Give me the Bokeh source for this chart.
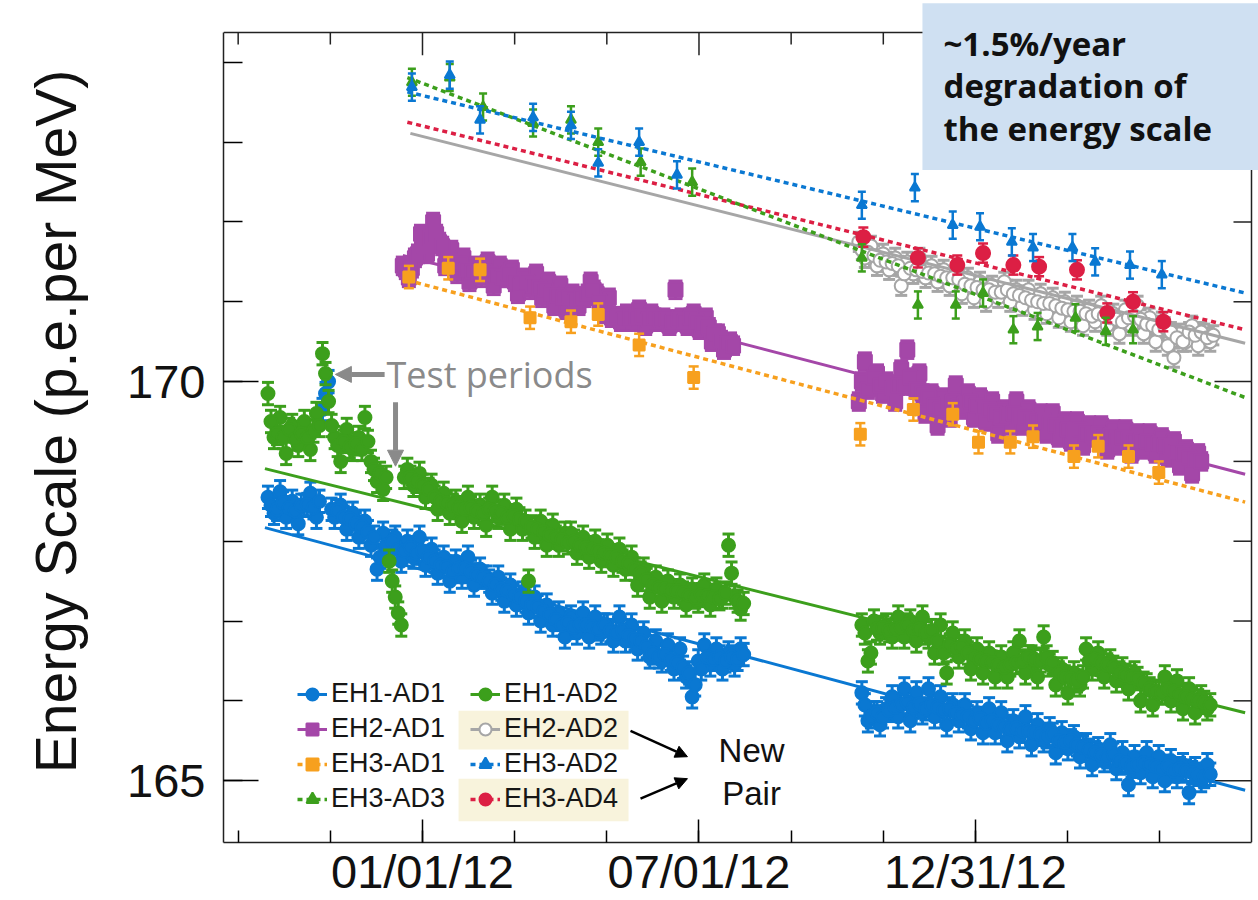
import numpy as np
import pandas as pd
from bokeh.plotting import figure
from bokeh.models import (Range1d, FixedTicker, Legend, LegendItem, Label,
                          Arrow, NormalHead, BoxAnnotation, ColumnDataSource)
from bokeh.embed import file_html
from bokeh.resources import INLINE

# ---------------- data (days counted from 2012-01-01) ----------------
EPOCH = pd.Timestamp("2012-01-01")

tick_days = [0, 182.5, 365]
tick_labels = ["01/01/12", "07/01/12", "12/31/12"]
minor_tick_days = [-121.67, -60.83, 0, 60.83, 121.67, 182.5, 243.33, 304.17, 365, 425.83, 486.67]
y_major = [165, 170]
y_minor = list(range(164, 175))

# EH1 (near hall) - two interleaved 4-day samplings ("a" and "b", 2 days apart)
eh1_seg1_start_a, eh1_seg1_start_b, eh1_seg1_n = "2011-09-21", "2011-09-23", 79
eh1_seg2_start_a, eh1_seg2_start_b, eh1_seg2_n = "2012-10-17", "2012-10-19", 58
eh1_ad1_seg1_a = [168.55, 168.35, 168.62, 168.30, 168.50, 168.22, 168.45, 168.60, 168.30, 169.65,
                  170.00, 168.30, 168.45, 168.15, 168.35, 168.05, 168.25, 167.95, 167.65, 168.10,
                  167.85, 168.05, 167.75, 168.00, 167.80, 168.05, 167.70, 167.90, 167.60, 167.80,
                  167.50, 167.75, 167.55, 167.80, 167.45, 167.65, 167.55, 167.35, 167.55, 167.25,
                  167.45, 167.20, 167.35, 167.10, 167.30, 167.00, 167.20, 166.95, 167.10, 166.80,
                  167.05, 166.85, 167.10, 166.80, 167.05, 166.85, 166.95, 166.75, 167.05, 166.75,
                  166.95, 166.65, 166.85, 166.55, 166.75, 166.50, 166.70, 166.40, 166.65, 166.30,
                  166.05, 166.50, 166.70, 166.45, 166.65, 166.40, 166.60, 166.45, 166.65]
eh1_ad1_seg1_b = [168.45, 168.40, 168.48, 168.42, 168.38, 168.45, 168.46, 168.42, 168.50, 169.85,
                  168.40, 168.38, 168.30, 168.28, 168.22, 168.18, 168.12, 168.05, 167.80, 167.95,
                  168.00, 167.90, 167.88, 167.92, 167.85, 167.88, 167.80, 167.75, 167.70, 167.68,
                  167.62, 167.66, 167.66, 167.62, 167.58, 167.55, 167.50, 167.45, 167.40, 167.38,
                  167.33, 167.30, 167.25, 167.20, 167.18, 167.12, 167.08, 167.02, 166.95, 166.98,
                  166.92, 166.95, 166.95, 166.93, 166.90, 166.95, 166.88, 166.85, 166.88, 166.82,
                  166.78, 166.75, 166.68, 166.60, 166.55, 166.58, 166.52, 166.48, 166.42, 166.35,
                  166.20, 166.40, 166.55, 166.52, 166.55, 166.50, 166.55, 166.52, 166.58]
eh1_ad2_seg1_a = [169.85, 169.30, 169.55, 169.10, 169.45, 169.20, 169.50, 169.15, 169.60, 170.35,
                  169.75, 169.30, 169.00, 169.40, 169.15, 169.30, 169.55, 169.00, 168.75, 168.65,
                  167.75, 167.30, 166.95, 168.90, 168.70, 168.85, 168.55, 168.70, 168.40, 168.60,
                  168.35, 168.50, 168.25, 168.55, 168.30, 168.45, 168.20, 168.55, 168.30, 168.45,
                  168.15, 168.40, 168.15, 167.50, 168.05, 168.25, 167.95, 168.20, 167.95, 168.10,
                  168.10, 167.85, 168.05, 167.80, 168.00, 167.75, 167.95, 167.70, 167.90, 167.65,
                  167.80, 167.45, 167.65, 167.30, 167.55, 167.25, 167.50, 167.30, 167.45, 167.20,
                  167.40, 167.25, 167.45, 167.20, 167.40, 167.30, 167.95, 167.30, 167.15]
eh1_ad2_seg1_b = [169.50, 169.35, 169.30, 169.40, 169.28, 169.35, 169.30, 169.38, 169.45, 170.10,
                  169.45, 169.20, 169.25, 169.18, 169.22, 169.15, 169.25, 168.90, 168.85, 168.80,
                  167.50, 167.10, 168.80, 168.80, 168.75, 168.70, 168.65, 168.55, 168.50, 168.48,
                  168.45, 168.42, 168.40, 168.42, 168.38, 168.35, 168.40, 168.38, 168.35, 168.30,
                  168.32, 168.28, 168.25, 168.18, 168.15, 168.12, 168.08, 168.05, 168.02, 167.98,
                  168.00, 167.95, 167.92, 167.90, 167.88, 167.85, 167.82, 167.80, 167.75, 167.72,
                  167.65, 167.60, 167.52, 167.45, 167.42, 167.40, 167.38, 167.38, 167.35, 167.32,
                  167.30, 167.33, 167.32, 167.30, 167.28, 167.35, 167.60, 167.25, 167.22]
eh1_ad1_seg2_a = [166.10, 165.75, 165.85, 165.70, 165.90, 166.05, 165.80, 166.15, 165.75, 166.10,
                  165.85, 166.15, 165.80, 166.05, 165.70, 165.95, 165.75, 165.95, 165.65, 165.85,
                  165.60, 165.90, 165.60, 165.85, 165.50, 165.75, 165.55, 165.80, 165.45, 165.70,
                  165.50, 165.65, 165.35, 165.60, 165.40, 165.55, 165.30, 165.45, 165.20, 165.40,
                  165.25, 165.45, 165.15, 165.35, 164.95, 165.30, 165.10, 165.35, 165.05, 165.30,
                  165.00, 165.25, 165.05, 165.20, 164.85, 165.15, 165.00, 165.20]
eh1_ad1_seg2_b = [165.95, 165.80, 165.85, 165.80, 165.88, 165.92, 165.95, 165.98, 165.92, 165.96,
                  165.90, 165.95, 165.92, 165.88, 165.90, 165.85, 165.82, 165.80, 165.75, 165.78,
                  165.72, 165.75, 165.70, 165.68, 165.65, 165.66, 165.62, 165.62, 165.60, 165.58,
                  165.55, 165.58, 165.50, 165.48, 165.50, 165.45, 165.42, 165.38, 165.35, 165.32,
                  165.30, 165.33, 165.25, 165.22, 165.18, 165.20, 165.22, 165.20, 165.18, 165.15,
                  165.18, 165.12, 165.15, 165.12, 165.10, 165.08, 165.05, 165.08]
eh1_ad2_seg2_a = [166.95, 166.50, 167.00, 166.85, 166.95, 166.80, 167.05, 166.80, 167.00, 166.75,
                  167.05, 166.80, 166.60, 166.95, 166.35, 166.85, 166.55, 166.75, 166.40, 166.65,
                  166.35, 166.60, 166.30, 166.55, 166.30, 166.60, 166.75, 166.35, 166.55, 166.30,
                  166.80, 166.45, 166.20, 166.40, 166.10, 166.35, 166.20, 166.65, 166.40, 166.60,
                  166.30, 166.50, 166.25, 166.40, 166.15, 166.35, 166.00, 166.20, 165.95, 166.10,
                  166.30, 166.00, 166.25, 165.90, 166.15, 165.85, 166.05, 165.90]
eh1_ad2_seg2_b = [166.85, 166.60, 166.90, 166.92, 166.88, 166.90, 166.92, 166.95, 166.88, 166.90,
                  166.85, 166.88, 166.75, 166.60, 166.70, 166.65, 166.68, 166.60, 166.55, 166.52,
                  166.50, 166.48, 166.45, 166.42, 166.45, 166.48, 166.50, 166.55, 166.52, 166.50,
                  166.55, 166.48, 166.35, 166.30, 166.28, 166.25, 166.30, 166.50, 166.52, 166.48,
                  166.45, 166.42, 166.35, 166.32, 166.30, 166.28, 166.22, 166.15, 166.12, 166.10,
                  166.15, 166.12, 166.08, 166.05, 166.02, 166.00, 165.98, 165.95]

# EH2
eh2_seg1_start_a, eh2_seg1_start_b, eh2_seg1_n = "2011-12-19", "2011-12-21", 55
eh2_seg2_start_a, eh2_seg2_start_b, eh2_seg2_n = "2012-10-15", "2012-10-17", 57
eh2_ad2_start_a, eh2_ad2_start_b, eh2_ad2_n = "2012-10-15", "2012-10-17", 59
eh2_ad1_seg1_a = [171.45, 171.30, 171.55, 171.85, 171.60, 172.00, 171.75, 171.45, 171.65, 171.35,
                  171.55, 171.25, 171.45, 171.30, 171.50, 171.20, 171.45, 171.30, 171.40, 171.10,
                  171.30, 171.15, 171.35, 171.05, 171.25, 170.95, 171.20, 170.90, 171.10, 170.95,
                  171.05, 171.25, 171.10, 170.90, 171.05, 170.80, 170.75, 170.85, 170.75, 170.90,
                  170.70, 170.85, 170.75, 170.80, 170.70, 171.15, 170.80, 170.70, 170.85, 170.65,
                  170.80, 170.50, 170.60, 170.40, 170.50]
eh2_ad1_seg1_b = [171.40, 171.42, 171.60, 171.70, 171.80, 171.85, 171.70, 171.55, 171.50, 171.48,
                  171.40, 171.38, 171.35, 171.38, 171.35, 171.32, 171.30, 171.35, 171.25, 171.22,
                  171.25, 171.20, 171.18, 171.15, 171.10, 171.08, 171.05, 171.05, 171.02, 171.05,
                  171.10, 171.15, 171.00, 170.85, 170.80, 170.82, 170.78, 170.80, 170.80, 170.82,
                  170.78, 170.80, 170.78, 170.78, 170.75, 170.78, 170.75, 170.80, 170.75, 170.72,
                  170.68, 170.60, 170.52, 170.48, 170.45]
eh2_ad1_seg2_a = [169.75, 170.25, 169.95, 170.10, 169.85, 169.95, 169.75, 170.15, 170.40, 169.95,
                  170.10, 169.60, 169.85, 169.45, 169.80, 169.55, 169.95, 169.65, 169.85, 169.55,
                  169.80, 169.50, 169.75, 169.35, 169.65, 169.45, 169.75, 169.45, 169.65, 169.40,
                  169.60, 169.35, 169.60, 169.30, 169.50, 169.25, 169.50, 169.20, 169.45, 169.30,
                  169.45, 169.15, 169.40, 169.20, 169.40, 169.10, 169.35, 169.15, 169.35, 169.10,
                  169.30, 169.05, 169.25, 168.95, 169.15, 168.85, 169.10]
eh2_ad1_seg2_b = [170.00, 169.90, 170.05, 169.95, 170.00, 169.92, 169.95, 169.95, 170.05, 169.90,
                  169.85, 169.80, 169.70, 169.65, 169.72, 169.75, 169.70, 169.72, 169.75, 169.70,
                  169.68, 169.65, 169.60, 169.55, 169.58, 169.60, 169.57, 169.55, 169.52, 169.50,
                  169.52, 169.48, 169.45, 169.42, 169.40, 169.38, 169.40, 169.35, 169.33, 169.35,
                  169.30, 169.32, 169.28, 169.30, 169.28, 169.25, 169.26, 169.25, 169.22, 169.22,
                  169.20, 169.18, 169.12, 169.10, 169.05, 169.02, 169.00]
eh2_ad2_a = [171.75, 171.55, 171.70, 171.45, 171.60, 171.40, 171.55, 171.20, 171.50, 171.35,
             171.55, 171.30, 171.45, 171.25, 171.40, 171.20, 171.35, 171.10, 171.30, 171.05,
             171.25, 171.00, 171.20, 171.05, 171.25, 171.00, 171.15, 170.95, 171.15, 170.90,
             171.10, 170.85, 171.05, 170.80, 171.00, 170.75, 170.95, 170.70, 170.90, 170.75,
             170.95, 170.70, 170.85, 170.60, 170.90, 170.70, 170.95, 170.60, 170.80, 170.50,
             170.75, 170.45, 170.30, 170.60, 170.50, 170.70, 170.45, 170.60, 170.50]
eh2_ad2_b = [171.65, 171.62, 171.58, 171.52, 171.50, 171.48, 171.45, 171.35, 171.42, 171.40,
             171.38, 171.36, 171.35, 171.32, 171.30, 171.30, 171.28, 171.22, 171.20, 171.18,
             171.15, 171.15, 171.12, 171.12, 171.15, 171.10, 171.08, 171.05, 171.02, 171.00,
             170.98, 170.98, 170.95, 170.92, 170.90, 170.88, 170.88, 170.85, 170.82, 170.85,
             170.82, 170.80, 170.78, 170.75, 170.80, 170.82, 170.78, 170.72, 170.70, 170.65,
             170.68, 170.62, 170.55, 170.50, 170.62, 170.58, 170.62, 170.55, 170.58]

# EH3 (far hall) - sparse points
eh3_ad1_day = [-9, 17, 38, 71, 98, 116, 143, 179, 289, 324, 350, 367, 388, 403, 430, 446, 466, 486]
eh3_ad1_val = [171.31, 171.42, 171.40, 170.80, 170.75, 170.84, 170.46, 170.05, 169.34, 169.65,
               169.59, 169.24, 169.24, 169.31, 169.06, 169.19, 169.06, 168.86]
eh3_ad2_day = [-7, 18, 38, 73, 98, 116, 143, 168, 290, 325, 350, 368, 389, 403, 429, 444, 467, 488]
eh3_ad2_val = [173.69, 173.84, 173.28, 173.31, 173.21, 172.74, 173.00, 172.59, 172.21, 172.43,
               171.96, 171.94, 171.75, 171.68, 171.68, 171.50, 171.46, 171.34]
eh3_ad3_day = [-7, 18, 40, 73, 98, 116, 144, 178, 290, 327, 352, 370, 390, 406, 431, 451, 469]
eh3_ad3_val = [173.75, 173.81, 173.44, 173.24, 173.28, 173.00, 172.75, 172.50, 171.55, 170.96,
               170.96, 171.11, 170.65, 170.69, 170.80, 170.63, 170.65]
eh3_ad4_day = [291, 327, 353, 370, 390, 407, 432, 452, 469, 489]
eh3_ad4_val = [171.81, 171.55, 171.46, 171.61, 171.46, 171.44, 171.40, 170.86, 171.00, 170.75]

# uncertainties
err_eh1, err_eh2_ad1, err_eh2_ad2 = 0.14, 0.11, 0.12
err_eh3_ad1, err_eh3_tri, err_eh3_ad4 = 0.14, 0.17, 0.12

# fitted lines (start/end day, start/end value)
fit = {
    "EH1-AD1": ([-104, 543], [168.17, 164.88]),
    "EH1-AD2": ([-104, 543], [168.91, 165.85]),
    "EH2-AD1": ([-13, 543], [171.58, 168.84]),
    "EH2-AD2": ([-8, 543], [173.11, 170.48]),
    "EH3-AD1": ([-10, 543], [171.27, 168.49]),
    "EH3-AD2": ([-10, 543], [173.63, 171.11]),
    "EH3-AD3": ([-10, 543], [173.81, 169.80]),
    "EH3-AD4": ([-10, 543], [173.25, 170.65]),
}


def days_from(start, n):
    idx = pd.date_range(start, periods=n, freq="4D")
    return ((idx - EPOCH) / pd.Timedelta(days=1)).to_numpy()


eh1_days = np.concatenate([days_from(eh1_seg1_start_a, eh1_seg1_n), days_from(eh1_seg1_start_b, eh1_seg1_n),
                           days_from(eh1_seg2_start_a, eh1_seg2_n), days_from(eh1_seg2_start_b, eh1_seg2_n)])
eh1_ad1_all = eh1_ad1_seg1_a + eh1_ad1_seg1_b + eh1_ad1_seg2_a + eh1_ad1_seg2_b
eh1_ad2_all = eh1_ad2_seg1_a + eh1_ad2_seg1_b + eh1_ad2_seg2_a + eh1_ad2_seg2_b
eh2_ad1_days = np.concatenate([days_from(eh2_seg1_start_a, eh2_seg1_n), days_from(eh2_seg1_start_b, eh2_seg1_n),
                               days_from(eh2_seg2_start_a, eh2_seg2_n), days_from(eh2_seg2_start_b, eh2_seg2_n)])
eh2_ad1_all = eh2_ad1_seg1_a + eh2_ad1_seg1_b + eh2_ad1_seg2_a + eh2_ad1_seg2_b
eh2_ad2_days = np.concatenate([days_from(eh2_ad2_start_a, eh2_ad2_n), days_from(eh2_ad2_start_b, eh2_ad2_n)])
eh2_ad2_all = eh2_ad2_a + eh2_ad2_b

# ---------------- figure ----------------
# axes box (data extent of the drawn frame)
X_LO, X_HI = -131.35, 547.2
Y_LO, Y_HI = 164.225, 174.375
# the plotting area reaches to the top/right canvas edge so the note box can cover it
W, H, LEFT, BOTTOM = 1258, 900, 223, 56
X_VIEW_HI, Y_VIEW_HI = 551.82, 174.775
px_per_x = (W - LEFT) / (X_VIEW_HI - X_LO)
px_per_y = (H - BOTTOM) / (Y_VIEW_HI - Y_LO)

p = figure(width=W, height=H, output_backend="svg", toolbar_location=None,
           x_range=Range1d(X_LO, X_VIEW_HI), y_range=Range1d(Y_LO, Y_VIEW_HI),
           min_border_left=LEFT, min_border_right=0, min_border_top=0, min_border_bottom=BOTTOM)
p.xgrid.visible = False
p.ygrid.visible = False
p.outline_line_color = None
p.background_fill_color = "white"
p.border_fill_color = "white"

xticker = FixedTicker(ticks=tick_days, minor_ticks=minor_tick_days)
yticker = FixedTicker(ticks=y_major, minor_ticks=y_minor)

xa = p.xaxis[0]
xa.ticker = xticker
xa.bounds = (X_LO, X_HI)
xa.major_label_overrides = {t: l for t, l in zip(tick_days, tick_labels)}
xa.major_tick_in, xa.major_tick_out = 23, 0
xa.minor_tick_in, xa.minor_tick_out = 12, 0
xa.major_label_text_font = "Liberation Sans"
xa.major_label_text_font_size = "47px"
xa.major_label_text_color = "#111111"
xa.major_label_standoff = 2
xa.axis_line_width = 1.5
xa.axis_line_color = "#222222"
xa.major_tick_line_width = 1.5
xa.minor_tick_line_width = 1.5

ya = p.yaxis[0]
ya.ticker = yticker
ya.bounds = (Y_LO, Y_HI)
ya.major_tick_in, ya.major_tick_out = 35, 0
ya.minor_tick_in, ya.minor_tick_out = 19, 0
ya.major_label_text_font = "Liberation Sans"
ya.major_label_text_font_size = "47px"
ya.major_label_text_color = "#111111"
ya.major_label_standoff = 18
ya.axis_label = "Energy Scale (p.e.per MeV)"
ya.axis_label_text_font = "Liberation Sans"
ya.axis_label_text_font_size = "57px"
ya.axis_label_text_font_style = "normal"
ya.axis_label_text_color = "#111111"
ya.axis_label_standoff = 36
ya.axis_line_width = 1.5
ya.axis_line_color = "#222222"
ya.major_tick_line_width = 1.5
ya.minor_tick_line_width = 1.5

# top and right sides of the frame with mirrored inward ticks
p.line([X_LO, X_HI, X_HI], [Y_HI, Y_HI, Y_LO], line_color="#222222", line_width=1.5)
top_minor = [t for t in minor_tick_days if t not in tick_days]
p.segment(x0=top_minor, y0=[Y_HI] * len(top_minor), x1=top_minor,
          y1=[Y_HI - 12 / px_per_y] * len(top_minor), line_color="#222222", line_width=1.5)
p.segment(x0=tick_days, y0=[Y_HI] * len(tick_days), x1=tick_days,
          y1=[Y_HI - 23 / px_per_y] * len(tick_days), line_color="#222222", line_width=1.5)
right_minor = [v for v in y_minor if v not in y_major]
p.segment(x0=[X_HI] * len(right_minor), y0=right_minor, x1=[X_HI - 18 / px_per_x] * len(right_minor),
          y1=right_minor, line_color="#222222", line_width=1.5)
p.segment(x0=[X_HI] * len(y_major), y0=y_major, x1=[X_HI - 37 / px_per_x] * len(y_major),
          y1=y_major, line_color="#222222", line_width=1.5)

BLUE = "#0a78d2"
GREEN = "#3c9f1c"
PURPLE = "#a447a8"
GRAY = "#a6a6a6"
ORANGE = "#f7a01e"
RED = "#dc1f44"


def series(name, xs, ys, err, color, marker, size, fill, dash, lw, cap=12, bar=3, draw_line_first=True):
    ys = np.asarray(ys, dtype=float)
    src = ColumnDataSource(dict(x=np.asarray(xs, dtype=float), y=ys, lo=ys - err, hi=ys + err))
    fx, fy = fit[name]
    line = None
    if draw_line_first:
        line = p.line(fx, fy, line_color=color, line_width=lw, line_dash=dash)
    p.segment("x", "lo", "x", "hi", source=src, line_color=color, line_width=bar)
    p.scatter("x", "lo", source=src, marker="dash", size=cap, line_color=color, line_width=bar)
    p.scatter("x", "hi", source=src, marker="dash", size=cap, line_color=color, line_width=bar)
    pts = p.scatter("x", "y", source=src, marker=marker, size=size, fill_color=fill,
                    line_color=color, line_width=2)
    if not draw_line_first:
        line = p.line(fx, fy, line_color=color, line_width=lw, line_dash=dash)
    return [line, pts]


r_e1a1 = series("EH1-AD1", eh1_days, eh1_ad1_all, err_eh1, BLUE, "circle", 13, BLUE, "solid", 3)
r_e1a2 = series("EH1-AD2", eh1_days, eh1_ad2_all, err_eh1, GREEN, "circle", 13, GREEN, "solid", 3)
r_e2a1 = series("EH2-AD1", eh2_ad1_days, eh2_ad1_all, err_eh2_ad1, PURPLE, "square", 14, PURPLE, "solid", 3,
                cap=14)
r_e3a1 = series("EH3-AD1", eh3_ad1_day, eh3_ad1_val, err_eh3_ad1, ORANGE, "square", 11, ORANGE, "5 4", 3.5,
                cap=10, bar=2.5)
r_e2a2 = series("EH2-AD2", eh2_ad2_days, eh2_ad2_all, err_eh2_ad2, GRAY, "circle", 13, "white", "solid", 3,
                cap=12, bar=3, draw_line_first=False)
r_e3a4 = series("EH3-AD4", eh3_ad4_day, eh3_ad4_val, err_eh3_ad4, RED, "circle", 14, RED, "5 4", 3.5,
                cap=10, bar=2.5)
r_e3a3 = series("EH3-AD3", eh3_ad3_day, eh3_ad3_val, err_eh3_tri, GREEN, "triangle", 10, GREEN, "5 4", 3.5,
                cap=8, bar=2.5)
r_e3a2 = series("EH3-AD2", eh3_ad2_day, eh3_ad2_val, err_eh3_tri, BLUE, "triangle", 10, BLUE, "5 4", 3.5,
                cap=8, bar=2.5)

# highlight boxes behind the "new pair" legend entries
for top_v, bot_v in [(165.875, 165.39), (165.025, 164.49)]:
    p.add_layout(BoxAnnotation(left=23.8, right=136.0, top=top_v, bottom=bot_v,
                               fill_color="#f8f3dc", fill_alpha=1, line_color=None, level="underlay"))

legend = Legend(items=[
    LegendItem(label="EH1-AD1", renderers=r_e1a1),
    LegendItem(label="EH2-AD1", renderers=r_e2a1),
    LegendItem(label="EH3-AD1", renderers=r_e3a1),
    LegendItem(label="EH3-AD3", renderers=r_e3a3),
    LegendItem(label="EH1-AD2", renderers=r_e1a2),
    LegendItem(label="EH2-AD2", renderers=r_e2a2),
    LegendItem(label="EH3-AD2", renderers=r_e3a2),
    LegendItem(label="EH3-AD4", renderers=r_e3a4),
], ncols=2, location=(74, 28), padding=0, margin=0, spacing=4,
    glyph_width=30, glyph_height=30, label_height=30, label_width=135, label_standoff=4,
    label_text_font="Liberation Sans", label_text_font_size="27px", label_text_color="#161616",
    border_line_color=None, background_fill_alpha=0)
p.add_layout(legend, "center")

# annotations
gray_ann = "#8a8a8a"
p.add_layout(Arrow(end=NormalHead(size=16, fill_color=gray_ann, line_color=gray_ann),
                   x_start=-25.0, y_start=170.09, x_end=-57.5, y_end=170.09,
                   line_color=gray_ann, line_width=5))
p.add_layout(Arrow(end=NormalHead(size=16, fill_color=gray_ann, line_color=gray_ann),
                   x_start=-17.8, y_start=169.74, x_end=-17.8, y_end=168.94,
                   line_color=gray_ann, line_width=5))
p.add_layout(Label(x=-23.8, y=170.09, text="Test periods", text_font="Open Sans",
                   text_font_size="36px", text_color=gray_ann, text_baseline="alphabetic"))

p.add_layout(Label(x=217.2, y=165.375, text="New", text_font="Liberation Sans", text_font_size="33px",
                   text_color="#111111", text_align="center", text_baseline="alphabetic"))
p.add_layout(Label(x=217.2, y=164.84, text="Pair", text_font="Liberation Sans", text_font_size="33px",
                   text_color="#111111", text_align="center", text_baseline="alphabetic"))
p.add_layout(Arrow(end=NormalHead(size=12, fill_color="black", line_color="black"),
                   x_start=137.3, y_start=165.625, x_end=174.9, y_end=165.30,
                   line_color="black", line_width=2.5))
p.add_layout(Arrow(end=NormalHead(size=12, fill_color="black", line_color="black"),
                   x_start=143.9, y_start=164.775, x_end=174.9, y_end=165.025,
                   line_color="black", line_width=2.5))

# highlighted note box covering the top-right corner of the frame
p.add_layout(BoxAnnotation(left=330.0, right=X_VIEW_HI + 5, top=174.74, bottom=172.65,
                           fill_color="#cfe0f2", fill_alpha=1, line_color=None, level="overlay"))
for txt, yv in [("~1.5%/year", 174.2375), ("degradation of", 173.7125), ("the energy scale", 173.175)]:
    lab = Label(x=343.9, y=yv, text=txt, text_font="Open Sans", text_font_style="bold",
                text_font_size="33px", text_color="#111111", text_baseline="alphabetic")
    lab.level = "overlay"
    p.add_layout(lab)

open("out.html", "w").write(file_html(p, INLINE))
